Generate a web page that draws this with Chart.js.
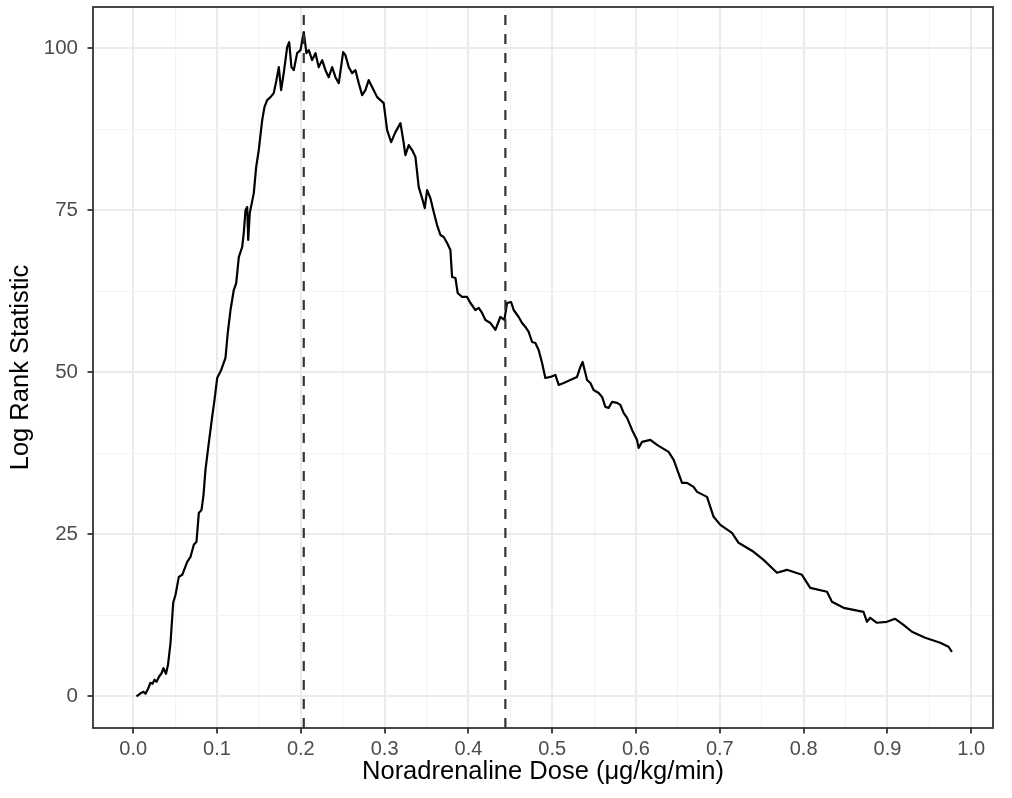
<!DOCTYPE html>
<html>
<head>
<meta charset="utf-8">
<script src="https://cdn.jsdelivr.net/npm/chart.js@4.4.1/dist/chart.umd.min.js"></script>
<style>
html,body{margin:0;padding:0;background:#ffffff;}
#wrap{width:1012px;height:798px;}
</style>
</head>
<body>
<div id="wrap"><canvas id="c" width="1012" height="798"></canvas></div>
<script>
// ---- data ----
const dose = [0.0039,0.0087,0.0123,0.0147,0.0177,0.0206,0.0230,0.0254,0.0278,0.0308,0.0338,0.0361,0.0391,0.0415,0.0445,0.0477,0.0505,0.0544,0.0585,0.0644,0.0684,0.0723,0.0755,0.0783,0.0815,0.0839,0.0862,0.0902,0.0942,0.0970,0.1002,0.1050,0.1101,0.1128,0.1161,0.1200,0.1229,0.1260,0.1300,0.1319,0.1340,0.1360,0.1372,0.1391,0.1439,0.1467,0.1498,0.1539,0.1566,0.1598,0.1638,0.1677,0.1709,0.1737,0.1765,0.1796,0.1837,0.1861,0.1888,0.1916,0.1956,0.1996,0.2035,0.2067,0.2095,0.2135,0.2175,0.2214,0.2255,0.2294,0.2333,0.2374,0.2413,0.2453,0.2505,0.2532,0.2572,0.2612,0.2652,0.2691,0.2732,0.2771,0.2810,0.2870,0.2911,0.2950,0.2989,0.3030,0.3078,0.3129,0.3189,0.3228,0.3248,0.3288,0.3328,0.3368,0.3407,0.3447,0.3479,0.3507,0.3546,0.3586,0.3626,0.3666,0.3705,0.3746,0.3785,0.3805,0.3845,0.3872,0.3925,0.3984,0.4024,0.4083,0.4123,0.4163,0.4203,0.4262,0.4322,0.4381,0.4429,0.4461,0.4509,0.4540,0.4600,0.4640,0.4680,0.4719,0.4760,0.4799,0.4838,0.4879,0.4918,0.4978,0.5038,0.5077,0.5137,0.5216,0.5296,0.5336,0.5363,0.5416,0.5455,0.5494,0.5554,0.5595,0.5634,0.5673,0.5714,0.5774,0.5813,0.5852,0.5893,0.5953,0.6012,0.6031,0.6072,0.6171,0.6251,0.6290,0.6389,0.6449,0.6549,0.6609,0.6687,0.6728,0.6847,0.6926,0.7006,0.7145,0.7224,0.7403,0.7522,0.7682,0.7801,0.7980,0.8079,0.8279,0.8338,0.8477,0.8715,0.8756,0.8795,0.8875,0.8994,0.9093,0.9192,0.9293,0.9451,0.9630,0.9729,0.9770];
const logRank = [0.0,0.49,0.72,0.42,1.19,2.11,1.96,2.58,2.27,3.04,3.58,4.35,3.50,4.89,8.28,14.45,15.69,18.46,18.77,20.77,21.55,23.40,23.86,28.33,28.79,31.11,34.96,39.13,43.14,45.76,49.15,50.39,52.24,56.09,59.64,62.72,63.80,67.81,69.36,71.52,75.06,75.53,70.44,74.60,77.68,81.69,84.32,88.94,90.95,92.03,92.49,93.11,95.11,97.12,93.57,96.19,100.20,100.97,97.12,96.65,99.28,99.74,102.51,99.28,99.74,98.20,99.28,97.12,98.20,96.65,95.57,97.12,95.57,94.65,99.43,98.97,97.12,96.19,96.65,94.65,92.80,93.57,95.11,93.57,92.49,92.03,91.57,87.40,85.55,87.09,88.48,85.39,83.54,85.09,84.32,83.24,78.61,76.91,75.37,78.15,76.91,74.75,72.75,71.21,70.90,69.97,68.89,64.73,64.58,62.26,61.65,61.65,60.72,59.64,59.95,59.18,58.10,57.64,56.56,58.56,58.10,60.72,60.87,59.64,58.56,57.64,57.02,56.25,54.70,54.55,53.47,51.47,49.15,49.31,49.61,48.07,48.38,48.84,49.31,50.85,51.62,48.84,48.38,47.30,46.84,46.22,44.68,44.53,45.45,45.30,44.99,43.76,42.98,41.13,39.59,38.36,39.28,39.59,38.82,38.51,37.74,36.51,32.96,32.96,32.34,31.57,30.80,27.72,26.48,25.25,23.71,22.32,21.08,19.08,19.54,18.77,16.76,16.15,14.61,13.68,13.06,11.52,12.14,11.37,11.52,11.98,11.06,9.98,9.05,8.28,7.67,6.89];
const cutpoints = [0.2035, 0.4441];
const xMajorTicks = [0.0,0.1,0.2,0.3,0.4,0.5,0.6,0.7,0.8,0.9,1.0];
const xMinorTicks = [0.05,0.15,0.25,0.35,0.45,0.55,0.65,0.75,0.85,0.95];
const yMajorTicks = [0,25,50,75,100];
const yMinorTicks = [12.5,37.5,62.5,87.5];
const xLimits = [-0.048, 1.026];
const yLimits = [-4.87, 106.4];
const xTitle = 'Noradrenaline Dose (μg/kg/min)';
const yTitle = 'Log Rank Statistic';

// ---- chart ----
const FONT = "'Liberation Sans', Arial, Helvetica, sans-serif";
const isMajorIn = (arr, v) => arr.some(m => Math.abs(m - v) < 1e-9);

const curve = dose.map((x, i) => ({x: x, y: logRank[i]}));
const vlineSets = cutpoints.map(c => ({
  data: [{x: c, y: yLimits[0]}, {x: c, y: yLimits[1]}],
  borderColor: '#333333',
  borderWidth: 2.2,
  borderDash: [10, 9],
  pointRadius: 0,
  tension: 0,
  clip: 0
}));

const framePlugin = {
  id: 'frame',
  afterDatasetsDraw(chart) {
    const {ctx, chartArea: a} = chart;
    ctx.save();
    ctx.strokeStyle = '#333333';
    ctx.lineWidth = 1.8;
    ctx.strokeRect(a.left, a.top, a.right - a.left, a.bottom - a.top);
    ctx.restore();
  }
};

function gridFor(majors) {
  return {
    drawOnChartArea: true,
    color: c => isMajorIn(majors, c.tick.value) ? '#ebebeb' : '#f3f3f3',
    lineWidth: c => isMajorIn(majors, c.tick.value) ? 2 : 1.1,
    tickColor: c => isMajorIn(majors, c.tick.value) ? '#333333' : 'rgba(0,0,0,0)',
    tickLength: 5.5,
    tickWidth: 1.8
  };
}

new Chart(document.getElementById('c'), {
  type: 'line',
  data: {
    datasets: [
      ...vlineSets,
      {
        data: curve,
        borderColor: '#000000',
        borderWidth: 2.2,
        pointRadius: 0,
        tension: 0,
        borderJoinStyle: 'round',
        clip: 0
      }
    ]
  },
  options: {
    responsive: false,
    animation: false,
    devicePixelRatio: 1,
    layout: {padding: {left: 0, top: 7, right: 19, bottom: 0}},
    plugins: {legend: {display: false}, tooltip: {enabled: false}},
    scales: {
      x: {
        type: 'linear',
        min: xLimits[0],
        max: xLimits[1],
        afterBuildTicks: s => {
          s.ticks = [...xMajorTicks, ...xMinorTicks].sort((a, b) => a - b).map(v => ({value: v}));
        },
        afterFit: s => { s.height = 70; s.paddingLeft = 0; s.paddingRight = 0; },
        border: {display: false},
        grid: gridFor(xMajorTicks),
        ticks: {
          autoSkip: false, maxRotation: 0, minRotation: 0, padding: 4,
          color: '#4d4d4d', font: {family: FONT, size: 20},
          callback: v => isMajorIn(xMajorTicks, v) ? Number(v).toFixed(1) : ''
        },
        title: {
          display: true, text: xTitle, color: '#000000',
          font: {family: FONT, size: 25.5}, padding: {top: 0, bottom: 11}
        }
      },
      y: {
        type: 'linear',
        min: yLimits[0],
        max: yLimits[1],
        afterBuildTicks: s => {
          s.ticks = [...yMajorTicks, ...yMinorTicks].sort((a, b) => a - b).map(v => ({value: v}));
        },
        afterFit: s => { s.width = 93; s.paddingTop = 0; s.paddingBottom = 0; },
        border: {display: false},
        grid: gridFor(yMajorTicks),
        ticks: {
          autoSkip: false, padding: 9.5,
          color: '#4d4d4d', font: {family: FONT, size: 20.5},
          callback: v => isMajorIn(yMajorTicks, v) ? String(v) : ''
        },
        title: {
          display: true, text: yTitle, color: '#000000',
          font: {family: FONT, size: 25.5}, padding: {top: 6, bottom: 0}
        }
      }
    }
  },
  plugins: [framePlugin]
});
</script>
</body>
</html>
